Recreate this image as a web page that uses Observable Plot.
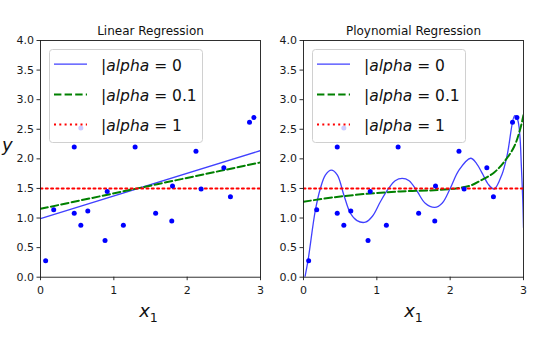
<!DOCTYPE html>
<html><head><meta charset="utf-8">
<script src="https://cdn.jsdelivr.net/npm/d3@7"></script>
<script src="https://cdn.jsdelivr.net/npm/@observablehq/plot@0.6"></script>
<style>
html,body{margin:0;padding:0;background:#fff;}
#wrap{position:relative;width:542px;height:348px;overflow:hidden;font-family:"DejaVu Sans";}
#wrap > svg{position:absolute;top:0;}
</style></head><body><div id="wrap"></div>
<script>
// ---- data ----
const titles = ["Linear Regression", "Ploynomial Regression"];
const alphaLabels = ["0", "0.1", "1"];
const xTicks = [0, 1, 2, 3];
const yTicks = [0, 0.5, 1, 1.5, 2, 2.5, 3, 3.5, 4];

const pointX = [0.07, 0.18, 0.46, 0.46, 0.55, 0.55, 0.645, 0.88, 0.91, 1.13, 1.29, 1.57, 1.79, 1.80, 2.12, 2.19, 2.50, 2.59, 2.85, 2.91];
const pointY = [0.28, 1.14, 2.20, 1.08, 2.52, 0.88, 1.12, 0.62, 1.45, 0.88, 2.20, 1.08, 0.95, 1.54, 2.13, 1.49, 1.85, 1.36, 2.62, 2.70];

// linear models
const linX = [0, 3];
const linAlpha0 = [0.99, 2.14];
const linAlpha01 = [1.155, 1.94];
const linAlpha1 = [1.5, 1.5];

// polynomial models
const polyX0 = [0, 0.06, 0.16, 0.23, 0.30, 0.38, 0.46, 0.55, 0.64, 0.73, 0.845, 0.94, 1.05, 1.16, 1.25, 1.345, 1.44, 1.55, 1.66, 1.79, 1.89, 2.0, 2.12, 2.28, 2.36, 2.44, 2.52, 2.60, 2.71, 2.78, 2.88, 2.92, 2.95, 2.97, 2.99, 3.0];
const polyY0 = [-0.12, 0.27, 1.12, 1.50, 1.73, 1.81, 1.73, 1.39, 1.08, 0.955, 0.93, 1.03, 1.28, 1.50, 1.63, 1.67, 1.63, 1.45, 1.25, 1.18, 1.25, 1.50, 1.81, 2.01, 1.92, 1.75, 1.57, 1.49, 1.75, 2.08, 2.73, 2.66, 2.40, 1.90, 1.30, 0.84];
const polyX01 = [0, 0.41, 0.87, 1.32, 1.78, 2.10, 2.28, 2.41, 2.60, 2.73, 2.87, 2.95, 3.0];
const polyY01 = [1.275, 1.35, 1.41, 1.45, 1.47, 1.505, 1.55, 1.63, 1.77, 1.94, 2.20, 2.48, 2.74];
const polyX1 = [0, 3];
const polyY1 = [1.5, 1.5];

// ---- build ----
const zip = (xs, ys) => xs.map((x, i) => ({x, y: ys[i]}));
const points = zip(pointX, pointY);
const lineStyles = [
  {stroke: "#0000ff", strokeWidth: 1.3, strokeOpacity: 0.75},
  {stroke: "#008000", strokeWidth: 2, strokeDasharray: "7.4,3.2"},
  {stroke: "#ff0000", strokeWidth: 2, strokeDasharray: "2,3.3"}
];

function panel(title, series, marginLeft, marginRight) {
  return Plot.plot({
    width: 271, height: 348,
    marginLeft, marginRight, marginTop: 40, marginBottom: 71.3,
    style: {fontFamily: "DejaVu Sans", fontSize: "11px", color: "#1a1a1a", background: "transparent"},
    x: {domain: [0, 3]},
    y: {domain: [0, 4]},
    marks: [
      ...series.map((s, i) => Plot.line(s, {x: "x", y: "y", curve: "catmull-rom", clip: true, ...lineStyles[i]})),
      Plot.dot(points, {x: "x", y: "y", r: 2.5, fill: "#0000ff", stroke: "none"}),
      Plot.frame({stroke: "#1a1a1a", strokeWidth: 0.9}),
      Plot.axisX({ticks: xTicks, tickFormat: d => String(d), tickSize: 3.5, tickPadding: 5, label: null, strokeWidth: 0.9}),
      Plot.axisY({ticks: yTicks, tickFormat: d => d.toFixed(1), tickSize: 3.5, tickPadding: 3, label: null, strokeWidth: 0.9}),
      Plot.text([title], {frameAnchor: "top", dy: -6, lineAnchor: "bottom", fontSize: 12, fill: "#111"})
    ]
  });
}

const wrap = document.getElementById("wrap");
const left = panel(titles[0], [zip(linX, linAlpha0), zip(linX, linAlpha01), zip(linX, linAlpha1)], 40, 11);
left.style.left = "0px";
const right = panel(titles[1], [zip(polyX0, polyY0), zip(polyX01, polyY01), zip(polyX1, polyY1)], 32, 19);
right.style.left = "271px";
wrap.appendChild(left);
wrap.appendChild(right);

// overlay: legends and axis labels
const ov = d3.select(wrap).append("svg")
  .attr("width", 542).attr("height", 348)
  .style("left", "0px").style("white-space", "pre")
  .attr("font-family", "DejaVu Sans");

[0, 263].forEach(off => {
  const g = ov.append("g").attr("transform", `translate(${off},0)`);
  g.append("rect").attr("x", 49.5).attr("y", 49.5).attr("width", 153).attr("height", 93)
    .attr("rx", 3).attr("fill", "#fff").attr("fill-opacity", 0.8)
    .attr("stroke", "#d0d0d0").attr("stroke-width", 1);
  alphaLabels.forEach((lab, i) => {
    const base = 70.6 + i * 30.2;
    const st = lineStyles[i];
    g.append("line").attr("x1", 54).attr("x2", 87).attr("y1", base - 6.4).attr("y2", base - 6.4)
      .attr("stroke", st.stroke).attr("stroke-width", st.strokeWidth)
      .attr("stroke-opacity", st.strokeOpacity || 1)
      .attr("stroke-dasharray", st.strokeDasharray || null);
    const t = g.append("text").attr("x", 101).attr("y", base).attr("font-size", 15.5).attr("fill", "#111");
    t.append("tspan").text("|");
    t.append("tspan").attr("font-style", "italic").text("alpha");
    t.append("tspan").text(" = " + lab);
  });
});

[148.5, 413.5].forEach(cx => {
  const t = ov.append("text").attr("x", cx).attr("y", 317).attr("text-anchor", "middle")
    .attr("font-size", 18).attr("fill", "#111");
  t.append("tspan").attr("font-style", "italic").text("x");
  t.append("tspan").attr("font-size", 12.6).attr("dy", 4.5).text("1");
});
ov.append("text").attr("x", 2).attr("y", 151).attr("font-size", 18)
  .attr("font-style", "italic").attr("fill", "#111").text("y");
</script></body></html>
